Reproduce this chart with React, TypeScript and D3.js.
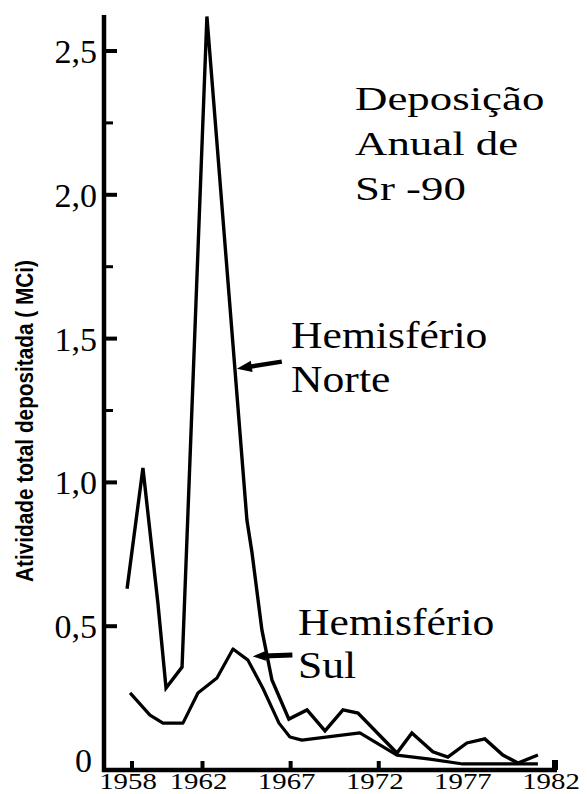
import React from "react";
import * as d3 from "d3";

// Annual Sr-90 deposition (MCi), northern hemisphere
const northYears = [
  1957.72, 1958.62, 1959.47, 1959.93, 1960.84, 1962.25, 1964.52, 1964.81, 1965.37,
  1965.94, 1966.9, 1967.93, 1968.95, 1969.97, 1970.82, 1973.03, 1973.88, 1975.07,
  1975.92, 1977.0, 1978.02, 1979.04, 1979.9, 1981.03,
];
const northValues = [
  0.63, 1.05, 0.58, 0.285, 0.358, 2.62, 0.869, 0.755, 0.487,
  0.313, 0.177, 0.209, 0.136, 0.209, 0.198, 0.059, 0.129, 0.063,
  0.045, 0.094, 0.108, 0.052, 0.024, 0.052,
];

// Annual Sr-90 deposition (MCi), southern hemisphere
const southYears = [
  1957.89, 1959.02, 1959.76, 1960.89, 1961.74, 1962.82, 1963.73, 1964.58, 1965.42,
  1966.34, 1966.96, 1967.64, 1970.93, 1973.03, 1974.9, 1976.77, 1981.03,
];
const southValues = [
  0.268, 0.191, 0.163, 0.163, 0.268, 0.32, 0.421, 0.382, 0.285,
  0.163, 0.115, 0.104, 0.129, 0.052, 0.038, 0.021, 0.021,
];

const yMajorTicks = [0, 0.5, 1.0, 1.5, 2.0, 2.5];
const yMajorLabels = ["0", "0,5", "1,0", "1,5", "2,0", "2,5"];
const yMinorTicks = [1.25, 1.75, 2.25];
const xTickYears = [1958, 1962, 1967, 1972, 1982];
const xLabelYears = [1958, 1962, 1967, 1972, 1977, 1982];

const titleLines = ["Deposição", "Anual de", "Sr -90"];
const northLabel = ["Hemisfério", "Norte"];
const southLabel = ["Hemisfério", "Sul"];
const yAxisTitle = "Atividade total depositada ( MCi)";

// Arrow tips/tails in data units [year, value]
const northArrow = { tail: [1966.5, 1.42], tip: [1963.95, 1.395] };
const southArrow = { tail: [1967.1, 0.40], tip: [1964.85, 0.395] };

const W = 587;
const H = 794;
const serif = "Liberation Serif, Tinos, Times New Roman, Times, DejaVu Serif, serif";
const sans = "Liberation Sans, Arimo, Arial, Helvetica, sans-serif";

function Arrow({ tail, tip, width, head, x, y }: any) {
  const tx = x(tail[0]);
  const ty = y(tail[1]);
  const px = x(tip[0]);
  const py = y(tip[1]);
  const dx = px - tx;
  const dy = py - ty;
  const len = Math.hypot(dx, dy);
  const ux = dx / len;
  const uy = dy / len;
  const bx = px - ux * head;
  const by = py - uy * head;
  const nx = -uy;
  const ny = ux;
  const hw = head * 0.38;
  return (
    <g>
      <line x1={tx} y1={ty} x2={bx + ux * 2} y2={by + uy * 2} stroke="#000" strokeWidth={width} />
      <polygon
        points={`${px},${py} ${bx + nx * hw},${by + ny * hw} ${bx - nx * hw},${by - ny * hw}`}
        fill="#000"
      />
    </g>
  );
}

export default function App() {
  const x = d3.scaleLinear().domain([1958, 1982]).range([132, 555]);
  const y = d3.scaleLinear().domain([0, 2.5]).range([770, 51]);

  const line = d3
    .line<[number, number]>()
    .x((d) => x(d[0]))
    .y((d) => y(d[1]))
    .curve(d3.curveLinear);

  const north = northYears.map((yr, i) => [yr, northValues[i]] as [number, number]);
  const south = southYears.map((yr, i) => [yr, southValues[i]] as [number, number]);

  const axisLeft = 104;
  const axisTop = y(2.625);
  const y0 = y(0);

  return (
    <svg
      width={W}
      height={H}
      viewBox={`0 0 ${W} ${H}`}
      style={{ position: "absolute", left: 0, top: 0, background: "#fff", display: "block" }}
    >
      <rect x={0} y={0} width={W} height={H} fill="#fff" />

      {/* data lines */}
      <path d={line(south) || ""} fill="none" stroke="#000" strokeWidth={3.2} strokeLinejoin="round" />
      <path d={line(north) || ""} fill="none" stroke="#000" strokeWidth={3.4} strokeLinejoin="miter" strokeMiterlimit={3} />

      {/* y axis */}
      <line x1={axisLeft} y1={axisTop} x2={axisLeft} y2={y0 + 2} stroke="#000" strokeWidth={4.5} />
      {yMajorTicks.filter((v) => v > 0).map((v) => (
        <line key={"M" + v} x1={axisLeft} x2={axisLeft + 13} y1={y(v)} y2={y(v)} stroke="#000" strokeWidth={4} />
      ))}
      {yMinorTicks.map((v) => (
        <line key={"m" + v} x1={axisLeft} x2={axisLeft + 9} y1={y(v)} y2={y(v)} stroke="#000" strokeWidth={3} />
      ))}
      {yMajorTicks.map((v, i) => (
        <text
          key={"l" + v}
          x={v === 0 ? 92 : 97}
          y={y(v) + (v === 0 ? 2 : 12)}
          textAnchor="end"
          style={{ fontFamily: serif }}
          fontSize={34}
          fill="#000"
        >
          {yMajorLabels[i]}
        </text>
      ))}

      {/* x axis */}
      <line x1={axisLeft - 2} y1={y0} x2={x(1982) + 2} y2={y0} stroke="#000" strokeWidth={4.5} />
      {xTickYears.map((yr) => (
        <line
          key={"t" + yr}
          x1={x(yr)}
          x2={x(yr)}
          y1={y0}
          y2={y0 - (yr === 1982 ? 10 : 9)}
          stroke="#000"
          strokeWidth={yr === 1982 ? 6 : 4}
        />
      ))}
      {xLabelYears.map((yr) => (
        <text
          key={"x" + yr}
          transform={`translate(${x(yr) - 4},789) scale(1.2,1)`}
          textAnchor="middle"
          style={{ fontFamily: serif }}
          fontSize={24}
          fill="#000"
        >
          {yr}
        </text>
      ))}

      {/* y axis title */}
      <text
        transform={`translate(33,421) rotate(-90)`}
        textAnchor="middle"
        style={{ fontFamily: sans }}
        fontWeight="bold"
        fontSize={23}
        textLength={322}
        lengthAdjust="spacingAndGlyphs"
        fill="#000"
      >
        {yAxisTitle}
      </text>

      {/* title */}
      {titleLines.map((t, i) => (
        <text
          key={"ti" + i}
          transform={`translate(355,${110 + i * 45}) scale(1.32,1)`}
          style={{ fontFamily: serif }}
          fontSize={34}
          fill="#000"
        >
          {t}
        </text>
      ))}

      {/* series labels */}
      {northLabel.map((t, i) => (
        <text
          key={"n" + i}
          transform={`translate(291,${348 + i * 44}) scale(1.18,1)`}
          style={{ fontFamily: serif }}
          fontSize={37}
          fill="#000"
        >
          {t}
        </text>
      ))}
      {southLabel.map((t, i) => (
        <text
          key={"s" + i}
          transform={`translate(298,${635 + i * 43}) scale(1.18,1)`}
          style={{ fontFamily: serif }}
          fontSize={37}
          fill="#000"
        >
          {t}
        </text>
      ))}

      <Arrow tail={northArrow.tail} tip={northArrow.tip} width={4.5} head={15} x={x} y={y} />
      <Arrow tail={southArrow.tail} tip={southArrow.tip} width={5} head={13} x={x} y={y} />
    </svg>
  );
}
